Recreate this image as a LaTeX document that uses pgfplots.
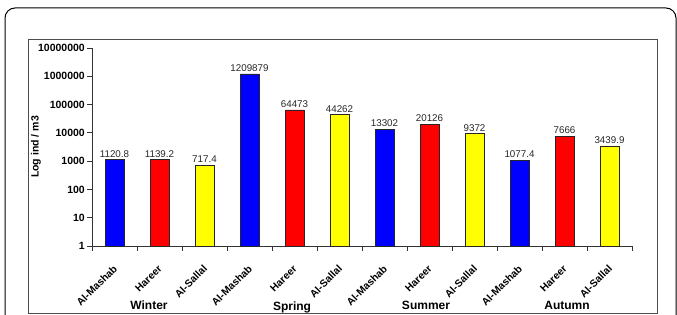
\documentclass[border=0pt]{standalone}
\usepackage{pgfplots}
\pgfplotsset{compat=1.18}
\usepackage{fontspec}
\setmainfont{Liberation Sans}
\definecolor{xblue}{RGB}{0,0,255}
\definecolor{xred}{RGB}{255,0,0}
\definecolor{xyellow}{RGB}{255,255,0}
\begin{document}
\begin{tikzpicture}[x=1pt,y=1pt]
\path[use as bounding box] (0,0) rectangle (677,315);
\begin{scope}
\clip (0,0) rectangle (677,315);
\draw[line width=1pt, rounded corners=10pt] (5,307) rectangle (676,-20);
\draw[line width=0.8pt, black!70] (28,276) rectangle (657,2);
\end{scope}
\begin{axis}[
  at={(92pt,69pt)}, anchor=south west,
  scale only axis, width=540pt, height=198pt,
  ymode=log, ymin=1, ymax=1e7,
  xmin=-0.5, xmax=11.5,
  axis x line*=bottom, axis y line*=left,
  axis line style={black!80, line width=0.8pt},
  tick align=outside, major tick length=5pt,
  tick style={black!80, line width=0.8pt},
  ytick={1,10,100,1000,10000,100000,1000000,10000000},
  yticklabels={1,10,100,1000,10000,100000,1000000,10000000},
  yminorticks=false,
  yticklabel style={font=\fontsize{10.5}{12}\selectfont\bfseries, inner sep=1pt, xshift=-1pt},
  xtick={0,...,11},
  major x tick style={draw=none},
  xticklabels={Al-Mashab,Hareer,Al-Sallal,Al-Mashab,Hareer,Al-Sallal,Al-Mashab,Hareer,Al-Sallal,Al-Mashab,Hareer,Al-Sallal},
  xticklabel style={font=\fontsize{10.3}{11}\selectfont\bfseries, anchor=north east, inner sep=0pt, xshift=-2pt, yshift=-13pt, rotate=45},
  minor xtick={-0.5,0.5,...,11.5},
  minor tick length=5pt,
  minor x tick style={black!80, line width=0.8pt},
  ybar, bar width=19pt, bar shift=0pt,
  nodes near coords,
  point meta=explicit symbolic,
  nodes near coords style={font=\fontsize{9.8}{11}\selectfont, black!85, inner sep=2pt},
  clip=false,
]
\addplot[fill=xblue, draw=black!85, line width=0.8pt] coordinates {
  (0,1120.8) [1120.8]
  (3,1209879) [1209879]
  (6,13302) [13302]
  (9,1077.4) [1077.4]
};
\addplot[fill=xred, draw=black!85, line width=0.8pt] coordinates {
  (1,1139.2) [1139.2]
  (4,64473) [64473]
  (7,20126) [20126]
  (10,7666) [7666]
};
\addplot[fill=xyellow, draw=black!85, line width=0.8pt] coordinates {
  (2,717.4) [717.4]
  (5,44262) [44262]
  (8,9372) [9372]
  (11,3439.9) [3439.9]
};
\end{axis}
\node[rotate=90, font=\fontsize{10.5}{12}\selectfont\bfseries] at (36,168) {Log ind / m3};
\node[font=\fontsize{12}{14}\selectfont\bfseries] at (149,10) {Winter};
\node[font=\fontsize{12}{14}\selectfont\bfseries] at (292,8) {Spring};
\node[font=\fontsize{12}{14}\selectfont\bfseries] at (426,10) {Summer};
\node[font=\fontsize{12}{14}\selectfont\bfseries] at (567,10) {Autumn};
\end{tikzpicture}
\end{document}
